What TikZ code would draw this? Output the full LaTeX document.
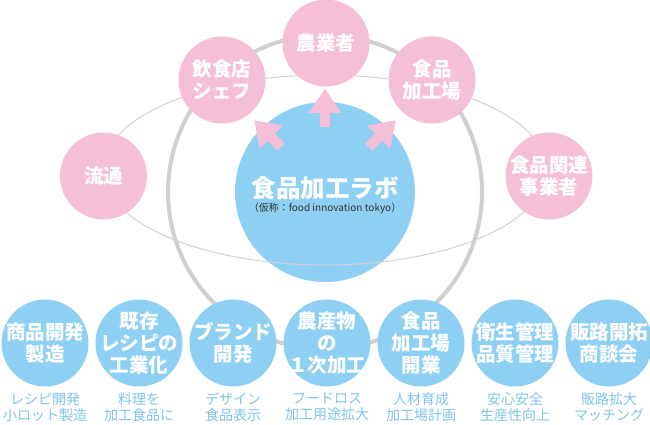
\documentclass[tikz,border=0pt]{standalone}
\usepackage{fontspec}
\setmainfont{Noto Sans CJK JP}
\usetikzlibrary{positioning, arrows.meta}

\definecolor{labblue}{HTML}{8ED0F3}
\definecolor{partnerpink}{HTML}{F5BFD8}
\definecolor{ringgray}{HTML}{D0D0D0}
\definecolor{orbitgray}{HTML}{D2D2D2}
\definecolor{captionblue}{HTML}{7FC4EA}

% fat pink arrow: #1 = tail point, #2 = turn angle
\newcommand{\pusharrow}[2]{%
    \fill[partnerpink, shift={#1}, rotate=#2]
        (-5,0) -- (-5,-14) -- (-16.5,-14) -- (0,-38) -- (16.5,-14) -- (5,-14) -- (5,0) -- cycle;}

\begin{document}
\begin{tikzpicture}[
    x=1pt, y=-1pt,
    node distance=6.6pt,
    partner/.style={
        circle,
        fill=partnerpink,
        minimum size=87pt,
        inner sep=0pt
    },
    service/.style={
        circle,
        fill=labblue,
        minimum size=87pt,
        inner sep=0pt
    },
    inside/.style={
        text=white,
        align=center,
        inner sep=0pt,
        font=\bfseries\fontsize{19.5pt}{22pt}\selectfont
    },
    caption/.style={
        text=captionblue,
        align=center,
        inner sep=0pt,
        font=\fontsize{14pt}{15.5pt}\selectfont
    }
]
\fill[white] (0,0) rectangle (650,425);
\useasboundingbox (0,0) rectangle (650,425);

% Lab in the middle
\node[circle, fill=labblue, minimum size=180pt, inner sep=0pt] (lab) at (325,192) {};

% Rings behind everything
\draw[ringgray, line width=4pt] (lab.center) circle (157pt);
\draw[orbitgray, line width=1pt] ([yshift=22pt]lab.center) ellipse [x radius=222pt, y radius=95pt];

\node[text=white, inner sep=0pt, font=\bfseries\fontsize{24.5pt}{28pt}\selectfont] (labname) at (325,188) {食品加工ラボ};
\node[text=black!80, inner sep=0pt, below=3pt of labname, font=\fontsize{10pt}{12pt}\selectfont] (labnote) {（仮称：food innovation tokyo）};

% Partners on the orbit
\node[partner, label={[inside]center:流通}] (ryutsu) at (103.5,176) {};
\node[partner, label={[inside]center:飲食店\\シェフ}] (chef) at (222,80) {};
\node[partner, label={[inside]center:農業者}] (nogyo) at (326,43) {};
\node[partner, label={[inside]center:食品\\加工場}] (kakojo) at (432,80) {};
\node[partner, label={[inside]center:食品関連\\事業者}] (kanren) at (549,176) {};

% Arrows out of the lab
\pusharrow{([yshift=-25pt]lab.north)}{0}
\pusharrow{([shift={(20,19)}]lab.north west)}{45}
\pusharrow{([shift={(-20,19)}]lab.north east)}{-45}

% Services along the bottom
\node[service, label={[inside]center:商品開発\\製造}] (dev) at (45,343) {};
\node[service, right=of dev, label={[inside]center:既存\\レシピの\\工業化}] (recipe) {};
\node[service, right=of recipe, label={[inside]center:ブランド\\開発}] (brand) {};
\node[service, right=of brand, label={[inside]center:農産物\\の\\１次加工}] (primary) {};
\node[service, right=of primary, label={[inside]center:食品\\加工場\\開業}] (open) {};
\node[service, right=of open, label={[inside]center:衛生管理\\品質管理}] (hygiene) {};
\node[service, right=of hygiene, label={[inside]center:販路開拓\\商談会}] (sales) {};

% Notes under the services
\node[caption, below=6pt of dev] (devnote) {レシピ開発\\小ロット製造};
\node[caption, below=6pt of recipe] (recipenote) {料理を\\加工食品に};
\node[caption, below=6pt of brand] (brandnote) {デザイン\\食品表示};
\node[caption, below=6pt of primary] (primarynote) {フードロス\\加工用途拡大};
\node[caption, below=6pt of open] (opennote) {人材育成\\加工場計画};
\node[caption, below=6pt of hygiene] (hygienenote) {安心安全\\生産性向上};
\node[caption, below=6pt of sales] (salesnote) {販路拡大\\マッチング};

\end{tikzpicture}
\end{document}
